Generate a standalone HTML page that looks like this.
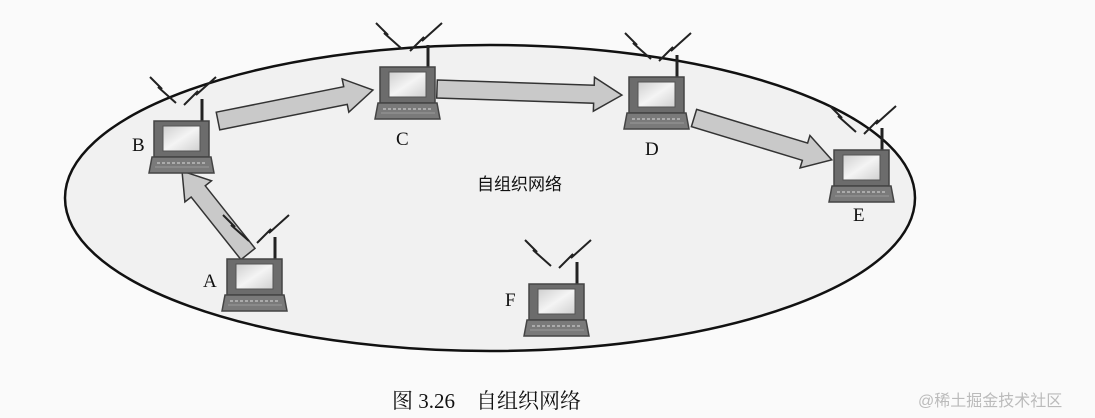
<!DOCTYPE html>
<html><head><meta charset="utf-8"><style>
html,body{margin:0;padding:0;background:#fafafa;}
svg{display:block}
</style></head><body>
<svg width="1095" height="418" viewBox="0 0 1095 418" xmlns="http://www.w3.org/2000/svg">
<defs>
<linearGradient id="scr" x1="0" y1="0" x2="1" y2="1"><stop offset="0" stop-color="#cfcfcf"/><stop offset="0.5" stop-color="#f4f4f4"/><stop offset="1" stop-color="#d0d0d0"/></linearGradient>
<g id="lap">
<line x1="48" y1="0" x2="48" y2="-22" stroke="#222" stroke-width="3"/>
<polyline points="-4,-44 8,-32 4,-34 22,-18" fill="none" stroke="#222" stroke-width="2"/>
<polyline points="30,-16 44,-30 42,-26 62,-44" fill="none" stroke="#222" stroke-width="2"/>
<rect x="0" y="0" width="55" height="36" fill="#6c6c6c" stroke="#444" stroke-width="1.5"/>
<rect x="9" y="5" width="37" height="25" fill="url(#scr)" stroke="#555"/>
<polygon points="-2,36 57,36 60,52 -5,52" fill="#7a7a7a" stroke="#444" stroke-width="1.5"/>
<line x1="3" y1="42" x2="52" y2="42" stroke="#bbb" stroke-width="1.5" stroke-dasharray="3,2"/>
<line x1="1" y1="46" x2="55" y2="46" stroke="#999" stroke-width="1"/>
</g>
</defs>
<ellipse cx="490" cy="198" rx="425" ry="153" fill="#f1f1f1" stroke="#111" stroke-width="2.5"/>
<g fill="#c9c9c9" stroke="#333" stroke-width="1.5">
<g transform="translate(218,121) rotate(-11.3)"><polygon points="0,-9 130,-9 130,-17 158,0 130,17 130,9 0,9"/></g>
<g transform="translate(437,89) rotate(1.9)"><polygon points="0,-9 157,-9 157,-17 185,0 157,17 157,9 0,9"/></g>
<g transform="translate(694,118) rotate(16.9)"><polygon points="0,-9 116,-9 116,-17 144,0 116,17 116,9 0,9"/></g>
<g transform="translate(248,254) rotate(231.5)"><polygon points="0,-9 80,-9 80,-17 106,0 80,17 80,9 0,9"/></g>
</g>
<use href="#lap" x="154" y="121"/>
<use href="#lap" x="380" y="67"/>
<use href="#lap" x="629" y="77"/>
<use href="#lap" x="834" y="150"/>
<use href="#lap" x="227" y="259"/>
<use href="#lap" x="529" y="284"/>
<g font-family="Liberation Serif, serif" font-size="19" fill="#111">
<text x="132" y="151">B</text>
<text x="396" y="145">C</text>
<text x="645" y="155">D</text>
<text x="853" y="221">E</text>
<text x="203" y="287">A</text>
<text x="505" y="306">F</text>
</g>
<text x="477" y="190" font-family="Liberation Sans, 'Noto Sans CJK SC', sans-serif" font-size="17" fill="#111">自组织网络</text>
<text x="392" y="408" font-family="Liberation Serif, 'Noto Serif CJK SC', serif" font-size="21" fill="#111">图 3.26　自组织网络</text>
<text x="918" y="406" font-family="Liberation Sans, 'Noto Sans CJK SC', sans-serif" font-size="16" fill="#bbb">@稀土掘金技术社区</text>
</svg>
</body></html>
